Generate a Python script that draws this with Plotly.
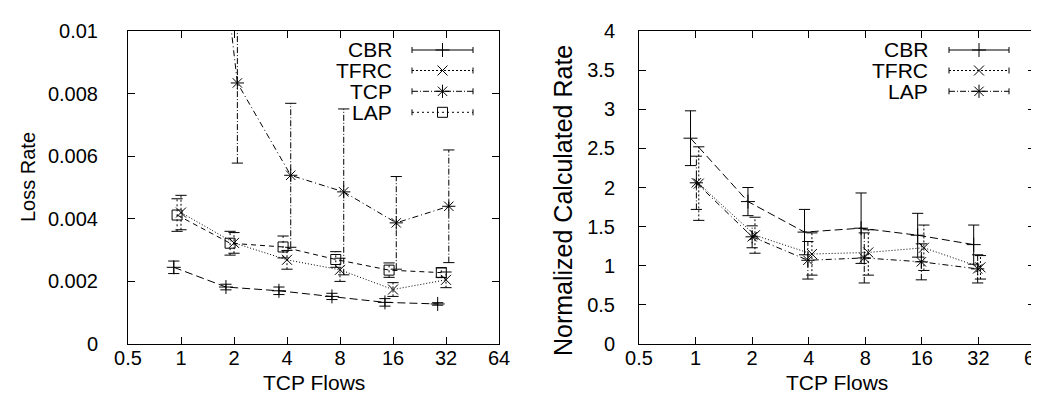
import math
import plotly.graph_objects as go

W, H = 1039, 397

# ---------------- data ----------------
flow_ticks = [0.5, 1, 2, 4, 8, 16, 32, 64]
flow_tick_text = ["0.5", "1", "2", "4", "8", "16", "32", "64"]

# Left panel: Loss Rate (x positions are slightly offset per series as in the original)
loss_cbr_x = [0.91, 1.80, 3.60, 7.20, 14.4, 28.7]
loss_cbr = [0.00245, 0.00182, 0.00170, 0.00152, 0.00133, 0.00128]
loss_cbr_err = [0.00020, 0.00009, 0.00012, 0.00010, 0.00012, 0.00004]

loss_tfrc_x = [1.0, 2.0, 4.0, 8.0, 16.0, 32.0]
loss_tfrc = [0.00420, 0.00323, 0.00269, 0.00237, 0.00174, 0.00205]
loss_tfrc_err = [0.00055, 0.00033, 0.00030, 0.00037, 0.00022, 0.00025]

loss_tcp_x = [1.05, 2.09, 4.20, 8.40, 16.7, 33.2]
loss_tcp = [0.0230, 0.00834, 0.00539, 0.00486, 0.00387, 0.00440]
loss_tcp_err = [0.0050, 0.00256, 0.00230, 0.00265, 0.00148, 0.00180]

loss_lap_x = [0.95, 1.90, 3.80, 7.57, 15.2, 30.1]
loss_lap = [0.00412, 0.00322, 0.00310, 0.00270, 0.00236, 0.00228]
loss_lap_err = [0.00052, 0.00038, 0.00035, 0.00025, 0.00023, 0.00015]

loss_ticks = [0, 0.002, 0.004, 0.006, 0.008, 0.01]
loss_tick_text = ["0", "0.002", "0.004", "0.006", "0.008", "0.01"]

# Right panel: Normalized Calculated Rate
rate_cbr_x = [0.94, 1.90, 3.80, 7.60, 15.2, 30.2]
rate_cbr = [2.63, 1.82, 1.43, 1.48, 1.39, 1.27]
rate_cbr_err = [0.35, 0.18, 0.29, 0.45, 0.28, 0.25]

rate_tfrc_x = [1.04, 2.07, 4.16, 8.30, 16.4, 32.8]
rate_tfrc = [2.05, 1.39, 1.15, 1.17, 1.23, 0.98]
rate_tfrc_err = [0.47, 0.23, 0.27, 0.29, 0.29, 0.15]

rate_lap_x = [1.01, 2.0, 3.96, 7.9, 15.9, 31.7]
rate_lap = [2.06, 1.37, 1.07, 1.10, 1.05, 0.96]
rate_lap_err = [0.34, 0.14, 0.24, 0.32, 0.23, 0.18]

rate_ticks = [0, 0.5, 1, 1.5, 2, 2.5, 3, 3.5, 4]
rate_tick_text = ["0", "0.5", "1", "1.5", "2", "2.5", "3", "3.5", "4"]

# ---------------- styles ----------------
FONT = "Liberation Sans, Arial, Helvetica, sans-serif"
TICK_SIZE = 20
styles = {
    "CBR": dict(sym="cross-thin", size=10, err="solid", line="8px,4px"),
    "TFRC": dict(sym="x-thin", size=10, err="2px,2px", line="1px,2px"),
    "TCP": dict(sym="asterisk", size=11, err="6px,2px,1px,2px", line="6px,3px,1px,3px"),
    "LAP": dict(sym="square-open", size=10, err="2px,3px", line="5px,4px"),
}

fig = go.Figure()


def add_series(x, y, e, st, xa, ya):
    xs, ys = [], []
    cx, cy = [], []
    for xi, yi, ei in zip(x, y, e):
        xs += [xi, xi, None]
        ys += [yi - ei, yi + ei, None]
        cx += [xi, xi]
        cy += [yi - ei, yi + ei]
    fig.add_trace(go.Scatter(x=xs, y=ys, mode="lines", xaxis=xa, yaxis=ya,
                             line=dict(color="black", width=1, dash=st["err"]),
                             showlegend=False, hoverinfo="skip"))
    fig.add_trace(go.Scatter(x=cx, y=cy, mode="markers", xaxis=xa, yaxis=ya,
                             marker=dict(symbol="line-ew", size=8, color="black",
                                         line=dict(color="black", width=1)),
                             showlegend=False, hoverinfo="skip"))
    fig.add_trace(go.Scatter(x=x, y=y, mode="lines+markers", xaxis=xa, yaxis=ya,
                             line=dict(color="black", width=1, dash=st["line"]),
                             marker=dict(symbol=st["sym"], size=st["size"], color="black",
                                         line=dict(color="black", width=1)),
                             showlegend=False))


add_series(loss_cbr_x, loss_cbr, loss_cbr_err, styles["CBR"], "x", "y")
add_series(loss_tfrc_x, loss_tfrc, loss_tfrc_err, styles["TFRC"], "x", "y")
add_series(loss_tcp_x, loss_tcp, loss_tcp_err, styles["TCP"], "x", "y")
add_series(loss_lap_x, loss_lap, loss_lap_err, styles["LAP"], "x", "y")

add_series(rate_cbr_x, rate_cbr, rate_cbr_err, styles["CBR"], "x2", "y2")
add_series(rate_tfrc_x, rate_tfrc, rate_tfrc_err, styles["TFRC"], "x2", "y2")
add_series(rate_lap_x, rate_lap, rate_lap_err, styles["TCP"], "x2", "y2")

# ---------------- geometry ----------------
L1, R1 = 120, 491
L2, R2 = 631, 1027
TOP, BOT = 23, 336


def px(v):
    return v / W


def py(v):
    return 1 - v / H


def xaxis(dom):
    return dict(domain=dom, type="log", range=[math.log10(0.5), math.log10(64)],
                tickvals=flow_ticks, ticktext=flow_tick_text, ticks="inside", ticklen=7,
                tickcolor="black", mirror="allticks", showline=True, linecolor="black",
                linewidth=1, showgrid=False, zeroline=False, automargin=False,
                tickfont=dict(family=FONT, size=TICK_SIZE, color="black"), ticklabelstandoff=-4)


def yaxis(dom, rng, tv, tt, standoff, anchor):
    return dict(domain=dom, range=rng, tickvals=tv, ticktext=tt, ticks="inside", ticklen=7,
                tickcolor="black", mirror="allticks", showline=True, linecolor="black",
                linewidth=1, showgrid=False, zeroline=False, automargin=False, anchor=anchor,
                tickfont=dict(family=FONT, size=TICK_SIZE, color="black"), ticklabelstandoff=standoff)


ydom = [py(BOT), py(TOP)]

# ---------------- custom legends ----------------
shapes = []
annotations = []
leg_mx, leg_my = [], []
leg_syms = []


def legend(entries, text_right, s0, s1, rows):
    for (name, st), ry in zip(entries, rows):
        annotations.append(dict(text=name, x=px(text_right), y=py(ry), xref="paper", yref="paper",
                                xanchor="right", yanchor="middle", showarrow=False,
                                font=dict(family=FONT, size=21, color="black")))
        shapes.append(dict(type="line", xref="paper", yref="paper", x0=px(s0), x1=px(s1),
                           y0=py(ry), y1=py(ry), line=dict(color="black", width=1, dash=st["err"])))
        for sx in (s0, s1):
            shapes.append(dict(type="line", xref="paper", yref="paper", x0=px(sx), x1=px(sx),
                               y0=py(ry - 3), y1=py(ry + 3), line=dict(color="black", width=1)))
        leg_mx.append(px((s0 + s1) / 2))
        leg_my.append(py(ry))
        leg_syms.append((st["sym"], st["size"]))


legend([("CBR", styles["CBR"]), ("TFRC", styles["TFRC"]), ("TCP", styles["TCP"]),
        ("LAP", styles["LAP"])], 386, 404, 465, [42, 62.5, 83.3, 104.3])
legend([("CBR", styles["CBR"]), ("TFRC", styles["TFRC"]), ("LAP", styles["TCP"])],
       922, 941, 1001, [42, 62.5, 83.3])

for (sym, size), mx, my in zip(leg_syms, leg_mx, leg_my):
    fig.add_trace(go.Scatter(x=[mx], y=[my], mode="markers", xaxis="x3", yaxis="y3",
                             marker=dict(symbol=sym, size=size, color="black",
                                         line=dict(color="black", width=1)),
                             showlegend=False, hoverinfo="skip", cliponaxis=False))

# axis titles
annotations += [
    dict(text="TCP Flows", x=px((L1 + R1) / 2), y=py(374), xref="paper", yref="paper",
         showarrow=False, xanchor="center", yanchor="middle",
         font=dict(family=FONT, size=21, color="black")),
    dict(text="TCP Flows", x=px((L2 + R2) / 2), y=py(374), xref="paper", yref="paper",
         showarrow=False, xanchor="center", yanchor="middle",
         font=dict(family=FONT, size=21, color="black")),
    dict(text="Loss Rate", x=px(20), y=py(169), xref="paper", yref="paper", textangle=-90,
         showarrow=False, xanchor="center", yanchor="middle",
         font=dict(family=FONT, size=20, color="black")),
    dict(text="Normalized Calculated Rate", x=px(555), y=py(193), xref="paper", yref="paper",
         textangle=-90, showarrow=False, xanchor="center", yanchor="middle",
         font=dict(family=FONT, size=25, color="black")),
]

fig.update_layout(
    width=W, height=H, margin=dict(l=0, r=0, t=0, b=0),
    paper_bgcolor="white", plot_bgcolor="rgba(0,0,0,0)",
    showlegend=False,
    xaxis=xaxis([px(L1), px(R1)]),
    yaxis=yaxis(ydom, [0, 0.01], loss_ticks, loss_tick_text, 25, "x"),
    xaxis2=xaxis([px(L2), px(R2)]),
    yaxis2=yaxis(ydom, [0, 4], rate_ticks, rate_tick_text, 19, "x2"),
    xaxis3=dict(domain=[0, 1], range=[0, 1], visible=False, anchor="y3"),
    yaxis3=dict(domain=[0, 1], range=[0, 1], visible=False, anchor="x3"),
    shapes=shapes, annotations=annotations,
)
fig.update_layout(xaxis=dict(anchor="y"), xaxis2=dict(anchor="y2"))

fig.write_html("out.html")
